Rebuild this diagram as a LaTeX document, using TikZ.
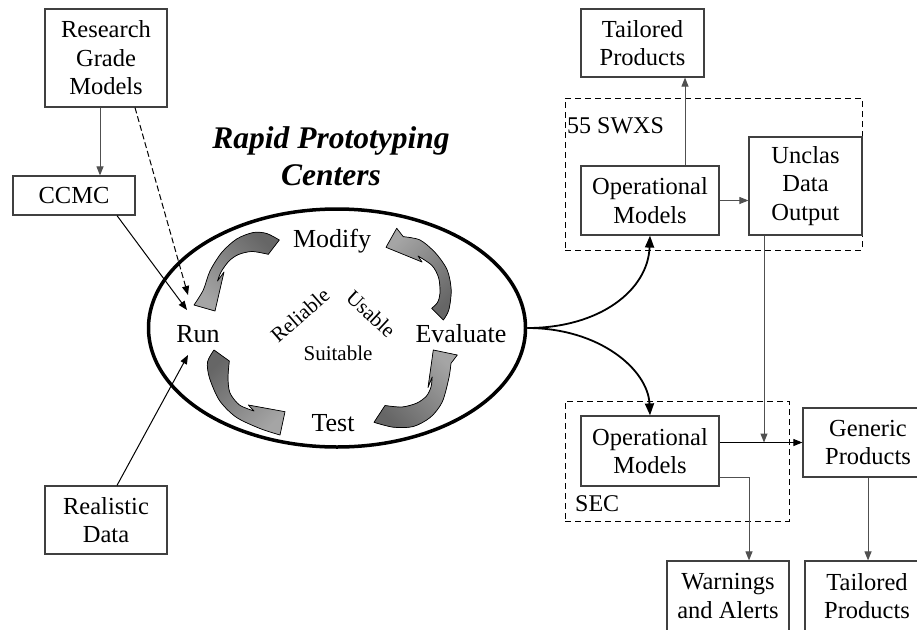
\documentclass[tikz,border=0pt]{standalone}
\usepackage{fontspec}
\setmainfont{Liberation Serif}
\usetikzlibrary{arrows.meta,shapes.geometric}
\definecolor{boxline}{HTML}{404040}
\definecolor{conngray}{HTML}{505050}
\definecolor{arrowdark}{HTML}{666666}
\definecolor{arrowlight}{HTML}{A5A5A5}
\begin{document}
\begin{tikzpicture}[x=1pt,y=-1pt,
  box/.style={draw=boxline, line width=1.2pt, inner sep=0pt, align=center,
    font=\fontsize{24.5}{28.5}\selectfont},
  grp/.style={draw=black, line width=1pt, dash pattern=on 6pt off 4pt, inner sep=0pt},
  lbl/.style={font=\fontsize{24}{28}\selectfont, anchor=base west, inner sep=0pt},
  cyclbl/.style={font=\fontsize{26}{30}\selectfont, anchor=base, inner sep=0pt},
  qual/.style={font=\fontsize{21}{25}\selectfont, inner sep=0pt},
  ttl/.style={font=\fontsize{31.5}{37}\selectfont\bfseries\itshape, anchor=base, inner sep=0pt},
  conn/.style={line width=1pt, -{Triangle[length=9pt,width=7pt]}},
  gconn/.style={conn, draw=conngray},
  bigconn/.style={line width=1.8pt, -{Triangle[length=12pt,width=9pt]}},
  garrow/.style={top color=arrowdark, bottom color=arrowlight, draw=black, line width=0.7pt, line join=round}
]
\useasboundingbox (0,0) rectangle (917,629);
\clip (0,0) rectangle (917,629);
\fill[white] (0,0) rectangle (917,629);

% dashed groups
\node[grp, minimum width=297pt, minimum height=152pt] (swxs) at (713.5,174) {};
\node[grp, minimum width=224pt, minimum height=120pt] (sec) at (677,461) {};
\node[lbl] (swxslbl) at (567,133) {55 SWXS};
\node[lbl] (seclbl) at (575,511) {SEC};

% boxes
\node[box, minimum width=122pt, minimum height=98pt] (res) at (106,58) {Research\\Grade\\Models};
\node[box, minimum width=122pt, minimum height=39pt] (ccmc) at (74,195.5) {CCMC};
\node[box, minimum width=122pt, minimum height=68pt] (real) at (106,520) {Realistic\\Data};
\node[box, minimum width=123pt, minimum height=68pt] (tail1) at (642.5,43) {Tailored\\Products};
\node[box, minimum width=138pt, minimum height=69pt] (op1) at (650,200.5) {Operational\\Models};
\node[box, minimum width=113pt, minimum height=98pt] (uncl) at (805.5,186) {Unclas\\Data\\Output};
\node[box, minimum width=138pt, minimum height=70pt] (op2) at (650,451) {Operational\\Models};
\node[box, minimum width=130pt, minimum height=69pt] (gen) at (868,442.5) {Generic\\Products};
\node[box, minimum width=122pt, minimum height=70pt] (warn) at (728,596) {Warnings\\and Alerts};
\node[box, minimum width=124pt, minimum height=70pt] (tail2) at (867,596) {Tailored\\Products};

% title
\node[ttl] (titleA) at (331,148) {Rapid Prototyping};
\node[ttl] (titleB) at (331,185) {Centers};

% ellipse
\node[ellipse, draw=black, line width=3.5pt, minimum width=377pt, minimum height=238pt, inner sep=0pt] (cyc) at (337,328) {};

% cycle labels
\node[cyclbl] (modify) at (332,247) {Modify};
\node[cyclbl] (run) at (198,342) {Run};
\node[cyclbl] (evaluate) at (461,342) {Evaluate};
\node[cyclbl] (test) at (333,431) {Test};
\node[qual, rotate=41] (reliable) at (300,315) {Reliable};
\node[qual, rotate=-43] (usable) at (371,314) {Usable};
\node[qual, anchor=base] (suitable) at (338,360) {Suitable};

% curved block arrows
% Modify -> Run
\filldraw[garrow, shading angle=-45] (279.3,240) -- plot[smooth] coordinates {(279.3,240) (266.7,233.5) (253.3,232.5) (236.7,239) (221.7,252.5) (210,271) (203.3,290) (194,305)}
  -- (215,311) -- (224,272) -- (217.5,281)
  -- plot[smooth] coordinates {(217.5,281) (221,272) (229,261) (238.5,254.5) (252,251.5) (268.3,254.3)} -- cycle;
% Evaluate -> Modify
\filldraw[garrow, shading angle=-135] (443.3,320) -- plot[smooth] coordinates {(443.3,320) (448.8,310) (451.2,290) (447.2,270) (435.5,253) (420,240) (403.3,236.7)}
  -- (396.7,228.3) -- (386,247.3) -- (422,262) -- (418,256)
  -- plot[smooth] coordinates {(418,256) (432,265.5) (438.7,278) (440,293.3) (437.5,302.5) (431.7,308.3)} -- cycle;
% Run -> Test
\filldraw[garrow, shading angle=45] (214,350) -- (229.3,361)
  -- plot[smooth] coordinates {(229.3,361) (228,378) (230,393) (239.5,405) (254,411)}
  -- (248.3,405) -- (285,411.7) -- (280,435)
  -- plot[smooth] coordinates {(280,435) (260,428.5) (236.2,417.2) (219.5,400.5) (209.5,378) (207.5,362) (214,350)} -- cycle;
% Test -> Evaluate
\filldraw[garrow, shading angle=135] (374,422.3) -- (385,405.5)
  -- plot[smooth] coordinates {(385,405.5) (402,407) (417,403) (426.5,396) (431,387) (432.2,377)}
  -- (428,387.5) -- (433.3,350) -- (457.3,355) -- (451,363.3)
  -- plot[smooth] coordinates {(451,363.3) (448.8,378.3) (442.2,402) (430.5,417.2) (413.3,426.5) (393.3,427.2) (374,422.3)} -- cycle;

% inputs to Run
\coordinate (runA) at (188,295);
\coordinate (runB) at (187,310);
\coordinate (runC) at (188,355);
\draw[gconn] ([xshift=-6pt]res.south) -- ([xshift=-6pt]res.south |- ccmc.north);
\draw[conn, dash pattern=on 6pt off 3pt] ([xshift=29pt]res.south) -- (runA);
\draw[conn] ([xshift=43pt]ccmc.south) -- (runB);
\draw[conn] ([xshift=11pt]real.north) -- (runC);

% outputs from the cycle
\draw[bigconn] (cyc.east) .. controls (600,328) and (648,290) .. (op1.south);
\draw[bigconn] (cyc.east) .. controls (600,328) and (648,370) .. (op2.north);

% 55 SWXS links
\draw[gconn] ([xshift=35pt]op1.north) -- ([xshift=35pt]op1.north |- tail1.south);
\draw[gconn] (op1.east) -- (uncl.west |- op1.east);
\draw[gconn] ([xshift=-41.5pt]uncl.south) -- ([xshift=-41.5pt]uncl.south |- gen.west);

% SEC links
\draw[conn] (op2.east |- gen.west) -- (gen.west);
\draw[gconn] ([yshift=-26pt]op2.east) -| ([xshift=21pt]warn.north);
\draw[gconn] (gen.south) -- (gen.south |- tail2.north);
\end{tikzpicture}
\end{document}
